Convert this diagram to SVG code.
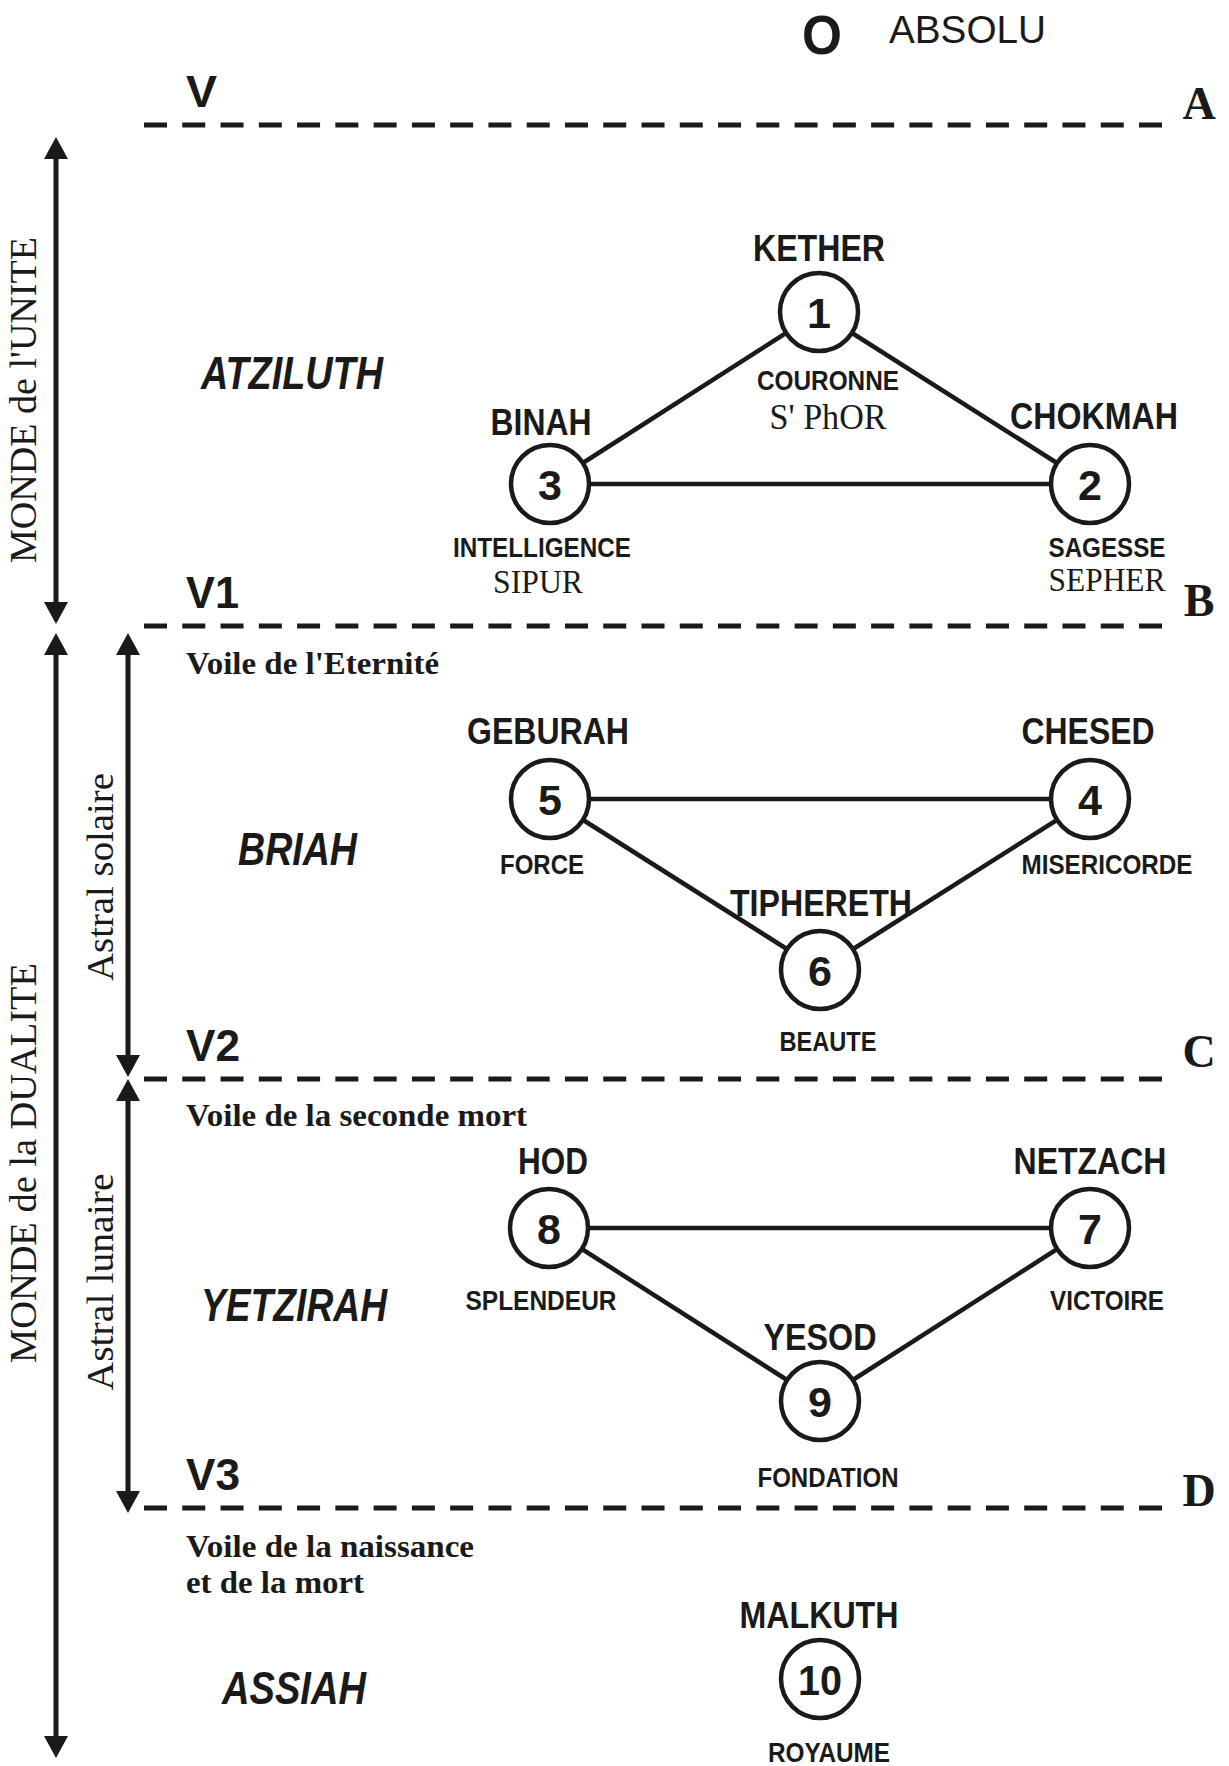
<svg xmlns="http://www.w3.org/2000/svg" width="1229" height="1766" viewBox="0 0 1229 1766">
<style>
  text { fill: #1a1a1a; }
  .t { font-family: "Liberation Sans Narrow", "Liberation Sans", Arial, sans-serif; font-weight: bold; font-size: 36px; text-anchor: middle; }
  .s { font-family: "Liberation Sans Narrow", "Liberation Sans", Arial, sans-serif; font-weight: bold; font-size: 27px; text-anchor: middle; }
  .h { font-family: "Liberation Serif", "Times New Roman", serif; font-size: 34px; text-anchor: middle; }
  .num { font-family: "Liberation Sans", Arial, sans-serif; font-weight: bold; font-size: 43px; text-anchor: middle; }
  .world { font-family: "Liberation Sans", Arial, sans-serif; font-weight: bold; font-style: italic; font-size: 46px; }
  .v { font-family: "Liberation Sans", Arial, sans-serif; font-weight: bold; font-size: 45px; }
  .letter { font-family: "Liberation Serif", "Times New Roman", serif; font-weight: bold; font-size: 46px; text-anchor: middle; }
  .voile { font-family: "Liberation Serif", "Times New Roman", serif; font-weight: bold; font-size: 32px; }
  .side { font-family: "Liberation Serif", "Times New Roman", serif; font-size: 37px; text-anchor: middle; }
  .node circle { fill: #fff; stroke: #1a1a1a; stroke-width: 4.5; }
  .link { stroke: #1a1a1a; stroke-width: 4.5; }
  .veil { stroke: #1a1a1a; stroke-width: 5; stroke-dasharray: 23 15.27; fill: none; }
  .arrow { stroke: #1a1a1a; stroke-width: 5; fill: none; marker-start: url(#head); marker-end: url(#head); }
</style>
<defs>
  <marker id="head" markerUnits="userSpaceOnUse" markerWidth="24" markerHeight="26" viewBox="0 -13 23 26" refX="0" refY="0" orient="auto-start-reverse">
    <path d="M0,-12 L22,0 L0,12 Z" fill="#1a1a1a"/>
  </marker>
</defs>
<rect width="1229" height="1766" fill="#fff"/>

<!-- Top -->
<g id="absolu">
  <text x="822" y="54" style="font-family:'Liberation Sans',Arial,sans-serif;font-weight:bold;font-size:56px;text-anchor:middle" textLength="40" lengthAdjust="spacingAndGlyphs">O</text>
  <text x="889" y="43" style="font-family:'Liberation Sans',Arial,sans-serif;font-size:39px" textLength="157" lengthAdjust="spacingAndGlyphs">ABSOLU</text>
</g>

<!-- Veils -->
<g id="veils">
  <line class="veil" x1="144" y1="125" x2="1162" y2="125"/>
  <line class="veil" x1="144" y1="626" x2="1162" y2="626"/>
  <line class="veil" x1="144" y1="1079" x2="1162" y2="1079"/>
  <line class="veil" x1="144" y1="1508" x2="1162" y2="1508"/>
  <text class="v" x="186" y="107" textLength="31" lengthAdjust="spacingAndGlyphs">V</text>
  <text class="v" x="186" y="608" textLength="53" lengthAdjust="spacingAndGlyphs">V1</text>
  <text class="v" x="186" y="1061" textLength="54" lengthAdjust="spacingAndGlyphs">V2</text>
  <text class="v" x="186" y="1490" textLength="54" lengthAdjust="spacingAndGlyphs">V3</text>
  <text class="letter" x="1199" y="119">A</text>
  <text class="letter" x="1199" y="616">B</text>
  <text class="letter" x="1199" y="1067">C</text>
  <text class="letter" x="1199" y="1506">D</text>
  <text class="voile" x="186" y="674" textLength="253" lengthAdjust="spacingAndGlyphs">Voile de l'Eternité</text>
  <text class="voile" x="186" y="1126" textLength="341" lengthAdjust="spacingAndGlyphs">Voile de la seconde mort</text>
  <text class="voile" x="186" y="1557" textLength="288" lengthAdjust="spacingAndGlyphs">Voile de la naissance</text>
  <text class="voile" x="186" y="1593" textLength="178" lengthAdjust="spacingAndGlyphs">et de la mort</text>
</g>

<!-- Side arrows -->
<g id="side-arrows">
  <line class="arrow" x1="56" y1="159" x2="56" y2="602"/>
  <line class="arrow" x1="56" y1="655" x2="56" y2="1736"/>
  <line class="arrow" x1="128" y1="655" x2="128" y2="1055"/>
  <line class="arrow" x1="128" y1="1101" x2="128" y2="1491"/>
  <text class="side" transform="translate(36,400) rotate(-90)" textLength="326" lengthAdjust="spacingAndGlyphs">MONDE de l'UNITE</text>
  <text class="side" transform="translate(36,1163) rotate(-90)" textLength="400" lengthAdjust="spacingAndGlyphs">MONDE de la DUALITE</text>
  <text class="side" transform="translate(113,877) rotate(-90)" textLength="208" lengthAdjust="spacingAndGlyphs">Astral solaire</text>
  <text class="side" transform="translate(113,1282) rotate(-90)" textLength="217" lengthAdjust="spacingAndGlyphs">Astral lunaire</text>
</g>

<!-- Worlds -->
<g id="worlds">
  <text class="world" x="201" y="389" textLength="182" lengthAdjust="spacingAndGlyphs">ATZILUTH</text>
  <text class="world" x="238" y="865" textLength="119" lengthAdjust="spacingAndGlyphs">BRIAH</text>
  <text class="world" x="201" y="1321" textLength="186" lengthAdjust="spacingAndGlyphs">YETZIRAH</text>
  <text class="world" x="222" y="1704" textLength="144" lengthAdjust="spacingAndGlyphs">ASSIAH</text>
</g>

<!-- Connectors -->
<g id="connectors">
  <line class="link" x1="819" y1="312" x2="550" y2="484"/>
  <line class="link" x1="819" y1="312" x2="1090" y2="484"/>
  <line class="link" x1="550" y1="484" x2="1090" y2="484"/>
  <line class="link" x1="550" y1="799" x2="1090" y2="799"/>
  <line class="link" x1="550" y1="799" x2="820" y2="970"/>
  <line class="link" x1="1090" y1="799" x2="820" y2="970"/>
  <line class="link" x1="549" y1="1228" x2="1090" y2="1228"/>
  <line class="link" x1="549" y1="1228" x2="820" y2="1401"/>
  <line class="link" x1="1090" y1="1228" x2="820" y2="1401"/>
</g>

<!-- Nodes -->
<g id="kether" class="node">
  <text class="t" x="819" y="261" textLength="132" lengthAdjust="spacingAndGlyphs">KETHER</text>
  <circle cx="819" cy="312" r="39"/>
  <text class="num" x="819" y="328">1</text>
  <text class="s" x="828" y="390" textLength="142" lengthAdjust="spacingAndGlyphs">COURONNE</text>
  <text class="h" x="828" y="429" style="font-size:36px" textLength="117" lengthAdjust="spacingAndGlyphs">S' PhOR</text>
</g>
<g id="chokmah" class="node">
  <text class="t" x="1094" y="429" textLength="168" lengthAdjust="spacingAndGlyphs">CHOKMAH</text>
  <circle cx="1090" cy="484" r="39"/>
  <text class="num" x="1090" y="500">2</text>
  <text class="s" x="1107" y="557" textLength="117" lengthAdjust="spacingAndGlyphs">SAGESSE</text>
  <text class="h" x="1107" y="591" textLength="117" lengthAdjust="spacingAndGlyphs">SEPHER</text>
</g>
<g id="binah" class="node">
  <text class="t" x="541" y="435" textLength="101" lengthAdjust="spacingAndGlyphs">BINAH</text>
  <circle cx="550" cy="484" r="39"/>
  <text class="num" x="550" y="500">3</text>
  <text class="s" x="542" y="557" textLength="178" lengthAdjust="spacingAndGlyphs">INTELLIGENCE</text>
  <text class="h" x="538" y="593" textLength="90" lengthAdjust="spacingAndGlyphs">SIPUR</text>
</g>
<g id="chesed" class="node">
  <text class="t" x="1088" y="744" textLength="133" lengthAdjust="spacingAndGlyphs">CHESED</text>
  <circle cx="1090" cy="799" r="39"/>
  <text class="num" x="1090" y="815">4</text>
  <text class="s" x="1107" y="874" textLength="171" lengthAdjust="spacingAndGlyphs">MISERICORDE</text>
</g>
<g id="geburah" class="node">
  <text class="t" x="548" y="744" textLength="162" lengthAdjust="spacingAndGlyphs">GEBURAH</text>
  <circle cx="550" cy="799" r="39"/>
  <text class="num" x="550" y="815">5</text>
  <text class="s" x="542" y="874" textLength="84" lengthAdjust="spacingAndGlyphs">FORCE</text>
</g>
<g id="tiphereth" class="node">
  <text class="t" x="821" y="916" textLength="182" lengthAdjust="spacingAndGlyphs">TIPHERETH</text>
  <circle cx="820" cy="970" r="39"/>
  <text class="num" x="820" y="986">6</text>
  <text class="s" x="828" y="1051" textLength="97" lengthAdjust="spacingAndGlyphs">BEAUTE</text>
</g>
<g id="netzach" class="node">
  <text class="t" x="1090" y="1174" textLength="153" lengthAdjust="spacingAndGlyphs">NETZACH</text>
  <circle cx="1090" cy="1228" r="39"/>
  <text class="num" x="1090" y="1244">7</text>
  <text class="s" x="1107" y="1310" textLength="114" lengthAdjust="spacingAndGlyphs">VICTOIRE</text>
</g>
<g id="hod" class="node">
  <text class="t" x="553" y="1174" textLength="70" lengthAdjust="spacingAndGlyphs">HOD</text>
  <circle cx="549" cy="1228" r="39"/>
  <text class="num" x="549" y="1244">8</text>
  <text class="s" x="541" y="1310" textLength="151" lengthAdjust="spacingAndGlyphs">SPLENDEUR</text>
</g>
<g id="yesod" class="node">
  <text class="t" x="820" y="1350" textLength="113" lengthAdjust="spacingAndGlyphs">YESOD</text>
  <circle cx="820" cy="1401" r="39"/>
  <text class="num" x="820" y="1417">9</text>
  <text class="s" x="828" y="1487" textLength="141" lengthAdjust="spacingAndGlyphs">FONDATION</text>
</g>
<g id="malkuth" class="node">
  <text class="t" x="819" y="1628" textLength="159" lengthAdjust="spacingAndGlyphs">MALKUTH</text>
  <circle cx="820" cy="1679" r="39"/>
  <text class="num" x="820" y="1695" textLength="44" lengthAdjust="spacingAndGlyphs">10</text>
  <text class="s" x="829" y="1762" textLength="122" lengthAdjust="spacingAndGlyphs">ROYAUME</text>
</g>
</svg>
